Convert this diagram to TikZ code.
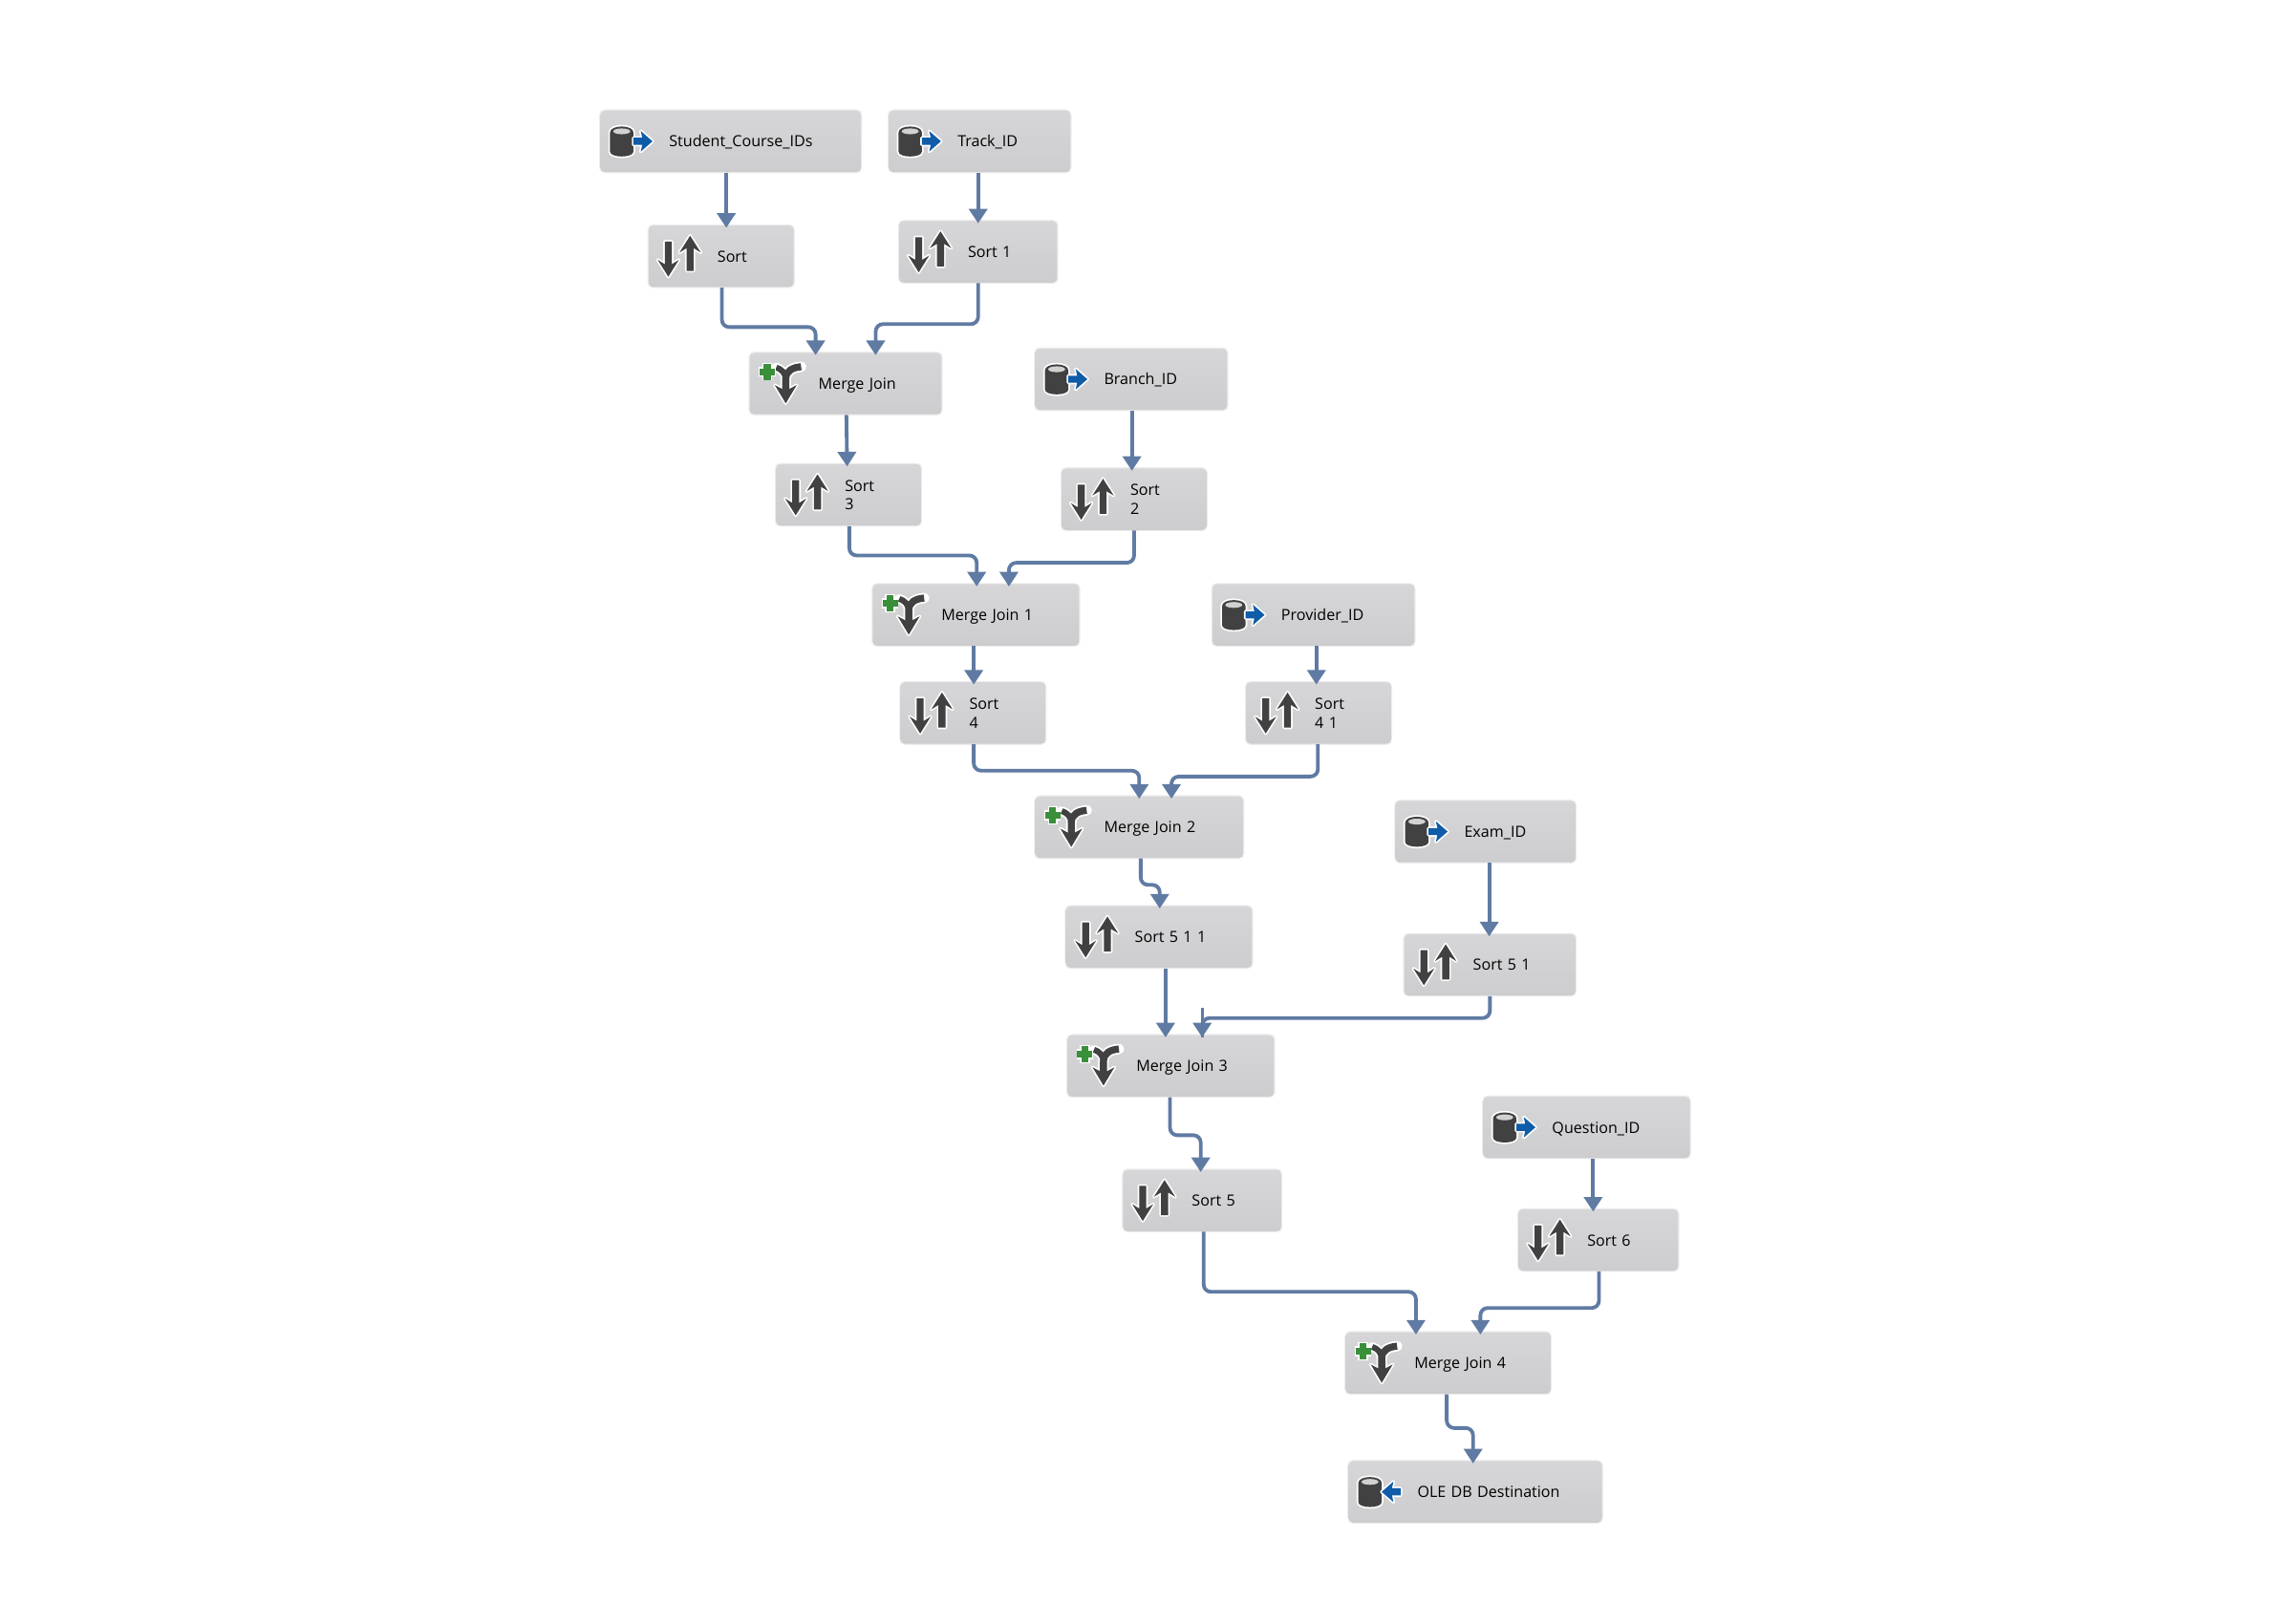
\documentclass[tikz,border=0pt]{standalone}
\usepackage{fontspec}
\setmainfont{Open Sans}
\usetikzlibrary{arrows.meta}

\definecolor{flowblue}{HTML}{607BA3}
\definecolor{icondark}{HTML}{414141}
\definecolor{iconblue}{HTML}{0F5CA8}
\definecolor{icongreen}{HTML}{3A8F3A}
\definecolor{boxtop}{HTML}{D6D6D8}
\definecolor{boxbottom}{HTML}{CDCDCF}

\tikzset{
	taskbox/.style={rounded corners=1.5pt,top color=boxtop,bottom color=boxbottom,
		minimum height=21pt,inner xsep=0pt,inner ysep=0pt,align=left,
		font=\fontsize{5.25}{6.5}\selectfont,
		preaction={draw=black!7,line width=0.8pt}},
	flow/.style={draw=flowblue,line width=1.25pt,rounded corners=2.5pt,shorten >=-1pt,
		-{Triangle[length=5pt,width=6.2pt]}},
	halo/.style={draw=white,line width=1.1pt,line join=round,fill=white},
	cylinderbody/.pic={
		\path[halo] (7,-6) -- (7,7) .. controls (7,11.5) and (23,11.5) .. (23,7)
			-- (23,-6) .. controls (23,-11.5) and (7,-11.5) .. (7,-6) -- cycle;
		\fill[icondark] (7,-6) -- (7,7) .. controls (7,11.5) and (23,11.5) .. (23,7)
			-- (23,-6) .. controls (23,-11.5) and (7,-11.5) .. (7,-6) -- cycle;
		\fill[black!18] (15,-6.8) circle[x radius=5.8,y radius=2];
	},
	srcicon/.pic={
		\pic {cylinderbody};
		\path[halo] (23,-2.4) -- (29,-2.4) -- (28,-7) -- (36,0) -- (28,7) -- (29,2.4) -- (23,2.4) -- cycle;
		\fill[iconblue] (23,-2.4) -- (29,-2.4) -- (28,-7) -- (36,0) -- (28,7) -- (29,2.4) -- (23,2.4) -- cycle;
	},
	desticon/.pic={
		\pic {cylinderbody};
		\path[halo] (36,-2.4) -- (30,-2.4) -- (31,-7) -- (23,0) -- (31,7) -- (30,2.4) -- (36,2.4) -- cycle;
		\fill[iconblue] (36,-2.4) -- (30,-2.4) -- (31,-7) -- (23,0) -- (31,7) -- (30,2.4) -- (36,2.4) -- cycle;
	},
	sorticon/.pic={
		\path[halo] (11.4,-10) -- (16.2,-10) -- (16.2,5.5) -- (21,2.5) -- (13.8,14) -- (6.6,2.5) -- (11.4,5.5) -- cycle;
		\fill[icondark] (11.4,-10) -- (16.2,-10) -- (16.2,5.5) -- (21,2.5) -- (13.8,14) -- (6.6,2.5) -- (11.4,5.5) -- cycle;
		\path[halo] (26.3,10) -- (31.1,10) -- (31.1,-5.5) -- (36,-2.5) -- (28.7,-14) -- (21.4,-2.5) -- (26.3,-5.5) -- cycle;
		\fill[icondark] (26.3,10) -- (31.1,10) -- (31.1,-5.5) -- (36,-2.5) -- (28.7,-14) -- (21.4,-2.5) -- (26.3,-5.5) -- cycle;
	},
	mergeicon/.pic={
		\draw[white,line width=3.6pt,line cap=round] (25,4) -- (25,-3)
			.. controls (25,-9) and (30,-11) .. (35.5,-11.5);
		\draw[white,line width=3.2pt,line cap=round] (25,-3) .. controls (25,-7) and (22,-10) .. (18.5,-11);
		\path[halo] (17.5,1) -- (25,5) -- (32.5,1) -- (25,13.5) -- cycle;
		\draw[icondark,line width=2.4pt] (25,6) -- (25,-3) .. controls (25,-9) and (30,-11) .. (35.5,-11.5);
		\draw[icondark,line width=2pt] (25,-3) .. controls (25,-7) and (22,-10) .. (18.5,-11);
		\fill[icondark] (17.5,1) -- (25,5) -- (32.5,1) -- (25,13.5) -- cycle;
		\draw[white,line width=3.4pt] (6.5,-8) -- (18,-8) (12.3,-14) -- (12.3,-2);
		\draw[icongreen,line width=2.4pt] (7,-8) -- (17.5,-8) (12.3,-13.5) -- (12.3,-2.5);
	},
}
\newcommand{\tasktext}[1]{\hspace*{23.5pt}\raisebox{-1.9pt}[0pt][0pt]{\begin{tabular}{@{}l@{}}#1\end{tabular}}}

\begin{document}
\begin{tikzpicture}[x=0.5pt,y=-0.5pt]
\useasboundingbox (0,0) rectangle (1568,1094);

\foreach \nm/\cx/\cy/\w/\ico/\txt in {
	student/499/96.5/89/srcicon/Student\_Course\_IDs,
	track/669/96.5/62/srcicon/Track\_ID,
	sort/492.5/175/49.5/sorticon/Sort,
	sortA/668/172/54/sorticon/Sort 1,
	mergeA/577.5/262/65.5/mergeicon/Merge Join,
	branch/772.5/259/65.5/srcicon/Branch\_ID,
	sortC/579.5/338/49.5/sorticon/Sort\\3,
	sortB/774.5/341/49.5/sorticon/Sort\\2,
	mergeB/666.5/420/70.5/mergeicon/Merge Join 1,
	provider/897/420/69/srcicon/Provider\_ID,
	sortD/664.5/487/49.5/sorticon/Sort\\4,
	sortDA/900.5/487/49.5/sorticon/Sort\\4 1,
	mergeC/778/565/71/mergeicon/Merge Join 2,
	exam/1014.5/568/61.5/srcicon/Exam\_ID,
	sortFAA/791.5/640/63.5/sorticon/Sort 5 1 1,
	sortFA/1017.5/659/58.5/sorticon/Sort 5 1,
	mergeD/799.5/728/70.5/mergeicon/Merge Join 3,
	sortF/821/820/54/sorticon/Sort 5,
	question/1083.5/770/70.5/srcicon/Question\_ID,
	sortG/1091.5/847/54.5/sorticon/Sort 6,
	mergeE/989/931/70/mergeicon/Merge Join 4,
	dest/1007.5/1019/86.5/desticon/OLE DB Destination}{
	\node[taskbox,text width=\w pt] (\nm) at (\cx,\cy) {\tasktext{\txt}};
	\pic at (\nm.west) {\ico};
}

% straight runs
\foreach \a/\ax/\b/\bx in {student/-1.5/sort/1.75,track/-0.5/sortA/0,mergeA/0.25/sortC/-0.5,
	branch/0.25/sortB/-0.75,mergeB/-0.75/sortD/0.25,provider/1/sortDA/-0.75,
	exam/1.25/sortFA/-0.25,sortFAA/2.25/mergeD/-1.75,question/2.25/sortG/-1.75}{
	\draw[flow] ([xshift=\ax pt]\a.south) -- ([xshift=\bx pt]\b.north);
}

% elbows
\foreach \a/\ax/\drop/\b/\bx in {sort/0.25/27/mergeA/-10.25,sortA/0/28/mergeA/10.25,
	sortC/0.25/20/mergeB/0.25,sortB/0/22/mergeB/11.25,sortD/0.25/18/mergeC/0,
	sortDA/-0.25/22/mergeC/11,mergeC/0.5/18/sortFAA/0.25,sortFA/0/15/mergeD/10.75,
	mergeD/-0.25/26/sortF/-0.5,sortF/0.5/41/mergeE/-11,sortG/0.25/25/mergeE/11,
	mergeE/-0.5/23/dest/-0.75}{
	\draw[flow] ([xshift=\ax pt]\a.south) -- ++(0,\drop) -| ([xshift=\bx pt]\b.north);
}

% the short piece that sticks out at the second input of Merge Join 3
\coordinate (stubtop) at ([xshift=10.75pt,yshift=9pt]mergeD.north);
\coordinate (stubend) at ([xshift=10.75pt,yshift=-1pt]mergeD.north);
\draw[draw=flowblue,line width=1pt] (stubtop) -- (stubend);

\end{tikzpicture}
\end{document}
